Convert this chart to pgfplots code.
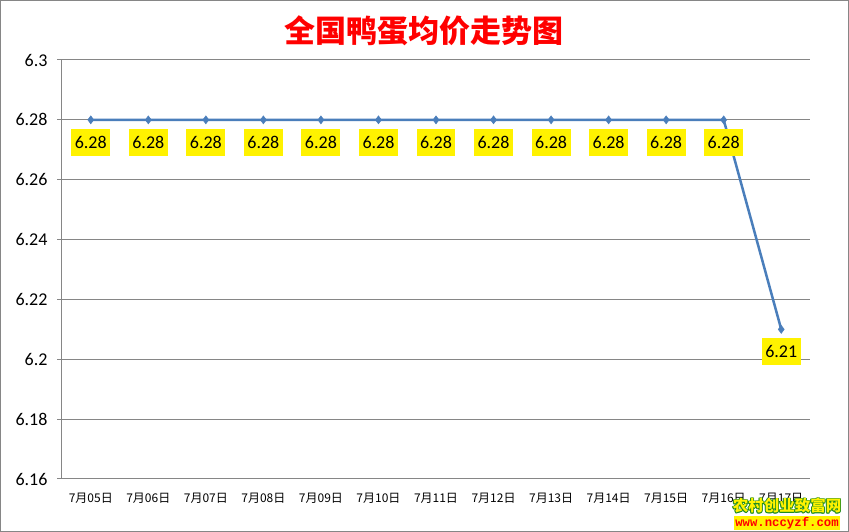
\documentclass[border=0pt]{standalone}
\usepackage{fontspec}
\setmainfont{Carlito}
\newfontfamily\cjk{Noto Sans CJK SC}
\newfontfamily\mono{Liberation Mono}
\usepackage{pgfplots}
\pgfplotsset{compat=1.18}
\definecolor{lineblue}{HTML}{4A7EBB}
\definecolor{gridgray}{HTML}{868686}
\definecolor{wmgreen}{HTML}{1E8C1E}
\begin{document}
\begin{tikzpicture}[x=1pt,y=1pt]
\useasboundingbox (0,0) rectangle (849,532);
\fill[white] (0,0) rectangle (849,532);
\draw[gridgray,line width=1pt] (0.5,0.5) rectangle (848.5,531.5);
\node[text=red,font=\cjk\bfseries\fontsize{31}{31}\selectfont] at (424,501) {全国鸭蛋均价走势图};
\begin{axis}[
  at={(62pt,53pt)}, anchor=south west, scale only axis,
  width=748pt, height=419pt,
  xmin=-0.5, xmax=12.5, ymin=6.16, ymax=6.3,
  ytick={6.16,6.18,6.2,6.22,6.24,6.26,6.28,6.3},
  axis lines*=left,
  axis line style={gridgray,line width=1pt},
  ymajorgrids, grid style={gridgray,line width=1pt},
  ytick align=outside, major tick length=5pt,
  every tick/.style={gridgray,line width=1pt},
  xtick={0,1,2,3,4,5,6,7,8,9,10,11,12},
  xticklabels={7月05日,7月06日,7月07日,7月08日,7月09日,7月10日,7月11日,7月12日,7月13日,7月14日,7月15日,7月16日,7月17日},
  x tick style={draw=none},
  minor xtick={-0.5,0.5,1.5,2.5,3.5,4.5,5.5,6.5,7.5,8.5,9.5,10.5,11.5,12.5},
  minor tick length=5pt,
  xtick align=outside,
  minor x tick style={gridgray,line width=1pt},
  xticklabel style={font=\cjk\fontsize{12}{12}\selectfont, yshift=-6pt},
  yticklabel style={font=\fontsize{18}{18}\selectfont, xshift=-6pt},
  /pgf/number format/assume math mode=true,
  yticklabel={\pgfmathprintnumber[fixed,precision=2]{\tick}},
  nodes near coords={\pgfmathprintnumber[fixed,fixed zerofill,precision=2]{\pgfplotspointmeta}},
  every node near coord/.append style={anchor=center, yshift=-22.5pt, fill=yellow, text=black,
     font=\fontsize{18}{18}\selectfont, inner xsep=3.5pt, minimum height=27pt},
  clip=false,
]
\addplot[lineblue, line width=2.5pt, mark=diamond*, mark size=4pt, mark options={fill=lineblue, line width=0.5pt}]
 coordinates {(0,6.28)(1,6.28)(2,6.28)(3,6.28)(4,6.28)(5,6.28)(6,6.28)(7,6.28)(8,6.28)(9,6.28)(10,6.28)(11,6.28)(12,6.21)};
\end{axis}
% watermark
\foreach \dx/\dy in {-0.8/0,0.8/0,0/-0.8,0/0.8,-0.6/-0.6,0.6/0.6,-0.6/0.6,0.6/-0.6}{
  \node[text=wmgreen,font=\cjk\bfseries\fontsize{15.5}{15.5}\selectfont] at (787+\dx,26+\dy) {农村创业致富网};
}
\node[text=yellow,font=\cjk\bfseries\fontsize{15.5}{15.5}\selectfont] at (787,26) {农村创业致富网};
\node[fill=yellow,text=red,inner xsep=1pt,inner ysep=1pt,font=\mono\bfseries\fontsize{12.3}{12.3}\selectfont] at (787,9) {www.nccyzf.com};
\end{tikzpicture}
\end{document}
